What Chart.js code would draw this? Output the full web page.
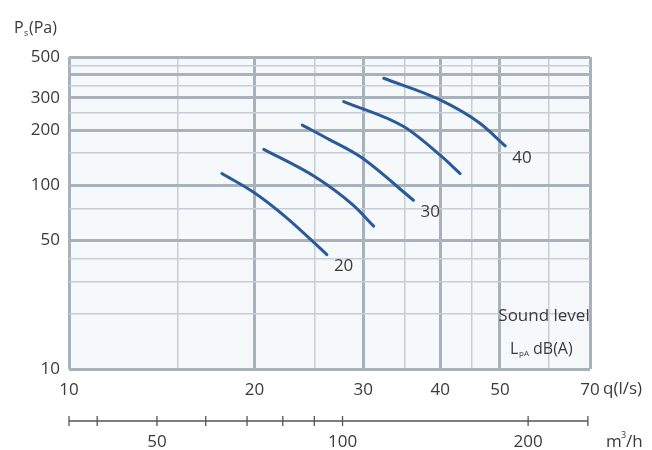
<!DOCTYPE html>
<html>
<head>
<meta charset="utf-8">
<script src="https://cdn.jsdelivr.net/npm/chart.js@4.4.0/dist/chart.umd.min.js"></script>
<style>
  html, body { margin: 0; padding: 0; background: #fff; }
  #wrap { width: 652px; height: 450px; position: relative; }
</style>
</head>
<body>
<div id="wrap"><canvas id="chart"></canvas></div>
<script>
// Courbes de niveau sonore : débit q (l/s) et pression Ps (Pa)
const curveFlow = [
  [17.7, 19.9, 22.5, 26.2],
  [20.7, 25.1, 28.9, 31.2],
  [23.9, 26.5, 29.7, 36.2],
  [27.9, 34.9, 40.0, 43.1],
  [32.4, 40.0, 46.4, 51.0],
];
const curvePressure = [
  [116, 92, 67, 42],
  [157, 111, 78, 60],
  [213, 177, 143, 83],
  [286, 209, 146, 116],
  [383, 292, 218, 164],
];
const curveLabels = ["20", "", "30", "", "40"];

// Grille et graduations
const xGridValues = [10, 15, 20, 25, 30, 35, 40, 45, 50, 60, 70];
const xMajor = [10, 20, 30, 40, 50, 70];
const xTickLabels = [10, 20, 30, 40, 50, 70];
const yGridValues = [10, 20, 30, 40, 50, 75, 100, 150, 200, 250, 300, 350, 400, 450, 500];
const yMajor = [10, 50, 100, 200, 300, 400, 500];
const yTickLabels = [10, 50, 100, 200, 300, 500];

// Axe secondaire m3/h
const m3hTicks = [36, 40, 50, 60, 70, 80, 90, 100, 200, 250];
const m3hLabels = [50, 100, 200];
const LS_TO_M3H = 3.6;

const textColor = "#3a3a3a";
const curveColor = "#2b5b97";
const fontFamily = "'Open Sans', sans-serif";

const extras = {
  id: "extras",
  beforeDraw(chart) {
    const { ctx, chartArea: a } = chart;
    ctx.save();
    ctx.fillStyle = "#f6f9fc";
    ctx.fillRect(a.left, a.top, a.right - a.left, a.bottom - a.top);
    ctx.restore();
  },
  afterDraw(chart) {
    const { ctx } = chart;
    const xs = chart.scales.x;
    ctx.save();
    ctx.fillStyle = textColor;
    ctx.textBaseline = "alphabetic";
    ctx.textAlign = "left";

    // Titre axe Y
    ctx.font = `16px ${fontFamily}`;
    ctx.fillText("P", 14, 33);
    ctx.font = `9px ${fontFamily}`;
    ctx.fillText("s", 24, 36);
    ctx.font = `16px ${fontFamily}`;
    ctx.fillText("(Pa)", 29, 33);

    // Unité axe X
    ctx.font = `17px ${fontFamily}`;
    ctx.textBaseline = "middle";
    ctx.fillText("q(l/s)", 603, 389);

    // Etiquettes des courbes
    chart.data.datasets.forEach((ds, i) => {
      if (!curveLabels[i]) return;
      const pts = chart.getDatasetMeta(i).data;
      const last = pts[pts.length - 1];
      ctx.fillText(curveLabels[i], last.x + 7, last.y + 12);
    });

    // Légende niveau sonore
    ctx.textAlign = "center";
    ctx.font = `17px ${fontFamily}`;
    ctx.fillText("Sound level", 544, 316);
    ctx.textAlign = "left";
    ctx.font = `16px ${fontFamily}`;
    ctx.fillText("L", 510, 349);
    ctx.font = `8px ${fontFamily}`;
    ctx.fillText("pA", 519, 354);
    ctx.font = `16px ${fontFamily}`;
    ctx.fillText("dB(A)", 533, 349);

    // Axe secondaire m3/h
    const yLine = 421;
    const px = (v) => xs.getPixelForValue(v / LS_TO_M3H);
    ctx.strokeStyle = "#555";
    ctx.lineWidth = 1.3;
    ctx.beginPath();
    ctx.moveTo(px(m3hTicks[0]), yLine);
    ctx.lineTo(px(m3hTicks[m3hTicks.length - 1]), yLine);
    m3hTicks.forEach((v) => {
      ctx.moveTo(px(v), yLine - 5);
      ctx.lineTo(px(v), yLine + 5);
    });
    ctx.stroke();

    ctx.font = `17px ${fontFamily}`;
    ctx.textAlign = "center";
    m3hLabels.forEach((v) => ctx.fillText(String(v), px(v), 442));

    ctx.textAlign = "left";
    ctx.textBaseline = "alphabetic";
    ctx.fillText("m", 606, 447);
    ctx.font = `9px ${fontFamily}`;
    ctx.fillText("3", 621, 438);
    ctx.font = `17px ${fontFamily}`;
    ctx.fillText("/h", 626, 447);
    ctx.restore();
  },
};

const datasets = curveFlow.map((flows, i) => ({
  data: flows.map((q, j) => ({ x: q, y: curvePressure[i][j] })),
  showLine: true,
  borderColor: curveColor,
  borderWidth: 3,
  borderCapStyle: "round",
  pointRadius: 0,
  cubicInterpolationMode: "monotone",
  fill: false,
}));

Chart.defaults.font.family = fontFamily;
Chart.defaults.color = textColor;

new Chart(document.getElementById("chart"), {
  type: "scatter",
  data: { datasets },
  plugins: [extras],
  options: {
    responsive: true,
    maintainAspectRatio: false,
    animation: false,
    layout: { padding: { top: 57, right: 62, left: 0, bottom: 0 } },
    plugins: { legend: { display: false }, tooltip: { enabled: false } },
    scales: {
      x: {
        type: "logarithmic",
        min: 10,
        max: 70,
        afterBuildTicks: (scale) => {
          scale.ticks = xGridValues.map((v) => ({ value: v }));
        },
        afterFit: (scale) => {
          scale.height = 81;
          scale.paddingLeft = 0;
          scale.paddingRight = 0;
        },
        border: { display: false },
        grid: {
          drawTicks: false,
          color: (c) => (xMajor.includes(c.tick.value) ? "#a9b1bb" : "#c7ced6"),
          lineWidth: (c) => (xMajor.includes(c.tick.value) ? 3 : 1.5),
        },
        ticks: {
          autoSkip: false,
          maxRotation: 0,
          padding: 11,
          font: { size: 17 },
          color: textColor,
          callback: (v) => (xTickLabels.includes(v) ? String(v) : ""),
        },
      },
      y: {
        type: "logarithmic",
        min: 10,
        max: 500,
        afterBuildTicks: (scale) => {
          scale.ticks = yGridValues.map((v) => ({ value: v }));
        },
        afterFit: (scale) => {
          scale.width = 69;
          scale.paddingTop = 0;
          scale.paddingBottom = 0;
        },
        border: { display: false },
        grid: {
          drawTicks: false,
          color: (c) => (yMajor.includes(c.tick.value) ? "#a9b1bb" : "#c7ced6"),
          lineWidth: (c) => (yMajor.includes(c.tick.value) ? 3 : 1.5),
        },
        ticks: {
          autoSkip: false,
          padding: 9,
          font: { size: 17 },
          color: textColor,
          callback: (v) => (yTickLabels.includes(v) ? String(v) : ""),
        },
      },
    },
  },
});
</script>
</body>
</html>
